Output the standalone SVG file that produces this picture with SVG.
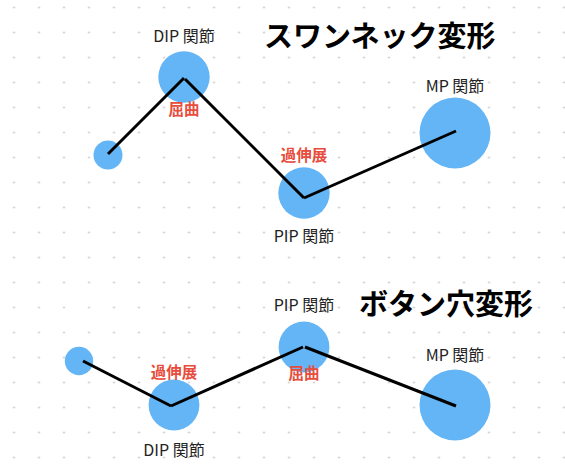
<svg xmlns="http://www.w3.org/2000/svg" width="565" height="469" viewBox="0 0 565 469">
<defs>
<pattern id="dots" patternUnits="userSpaceOnUse" x="1.5" y="-5" width="25" height="25">
<circle cx="12.5" cy="12.5" r="1" fill="#c4c4c4"/>
</pattern>
<style>
.joint{fill:#64b5f6}
.bone{stroke:#000;stroke-width:3;stroke-linecap:butt;fill:none}
.lbl{font-family:"Noto Sans CJK JP","Noto Sans",sans-serif;font-size:16px;fill:#222;text-anchor:middle}
.st{font-family:"Noto Sans CJK JP",sans-serif;font-size:15.5px;font-weight:bold;fill:#e74c3c;text-anchor:middle}
.ttl{font-family:"Noto Sans CJK JP",sans-serif;font-size:29px;font-weight:bold;fill:#000}
</style>
</defs>
<rect width="565" height="469" fill="#fff"/>
<rect width="565" height="469" fill="url(#dots)"/>

<g id="swan">
<g id="swan-tip"><circle class="joint" cx="108" cy="155" r="14.5"/></g>
<g id="swan-dip"><circle class="joint" cx="184" cy="77" r="25.7"/><text class="lbl" x="184" y="42">DIP 関節</text><text class="st" x="184" y="115">屈曲</text></g>
<g id="swan-pip"><circle class="joint" cx="304" cy="193" r="25.7"/><text class="st" x="304" y="161">過伸展</text><text class="lbl" x="304" y="242">PIP 関節</text></g>
<g id="swan-mp"><circle class="joint" cx="455" cy="133" r="35.5"/><text class="lbl" x="455" y="92">MP 関節</text></g>
<text id="swan-title" class="ttl" x="264" y="47">スワンネック変形</text>
</g>

<g id="bout">
<g id="bout-tip"><circle class="joint" cx="79" cy="361" r="14.2"/></g>
<g id="bout-dip"><circle class="joint" cx="174" cy="405" r="25.4"/><text class="st" x="174" y="378">過伸展</text><text class="lbl" x="174" y="456">DIP 関節</text></g>
<g id="bout-pip"><circle class="joint" cx="304" cy="347" r="25.4"/><text class="lbl" x="304" y="311">PIP 関節</text><text class="st" x="304" y="379">屈曲</text></g>
<g id="bout-mp"><circle class="joint" cx="455" cy="405" r="35.5"/><text class="lbl" x="455" y="361">MP 関節</text></g>
<text id="bout-title" class="ttl" x="359" y="315">ボタン穴変形</text>
</g>

<g id="connectors">
<line class="bone" x1="108" y1="154" x2="184" y2="78"/>
<line class="bone" x1="185" y1="79" x2="304" y2="198"/>
<line class="bone" x1="304" y1="198" x2="456" y2="131"/>
<line class="bone" x1="83" y1="361" x2="171" y2="406"/>
<line class="bone" x1="171" y1="406" x2="303" y2="347"/>
<line class="bone" x1="305" y1="347" x2="456" y2="406"/>
</g>
</svg>
